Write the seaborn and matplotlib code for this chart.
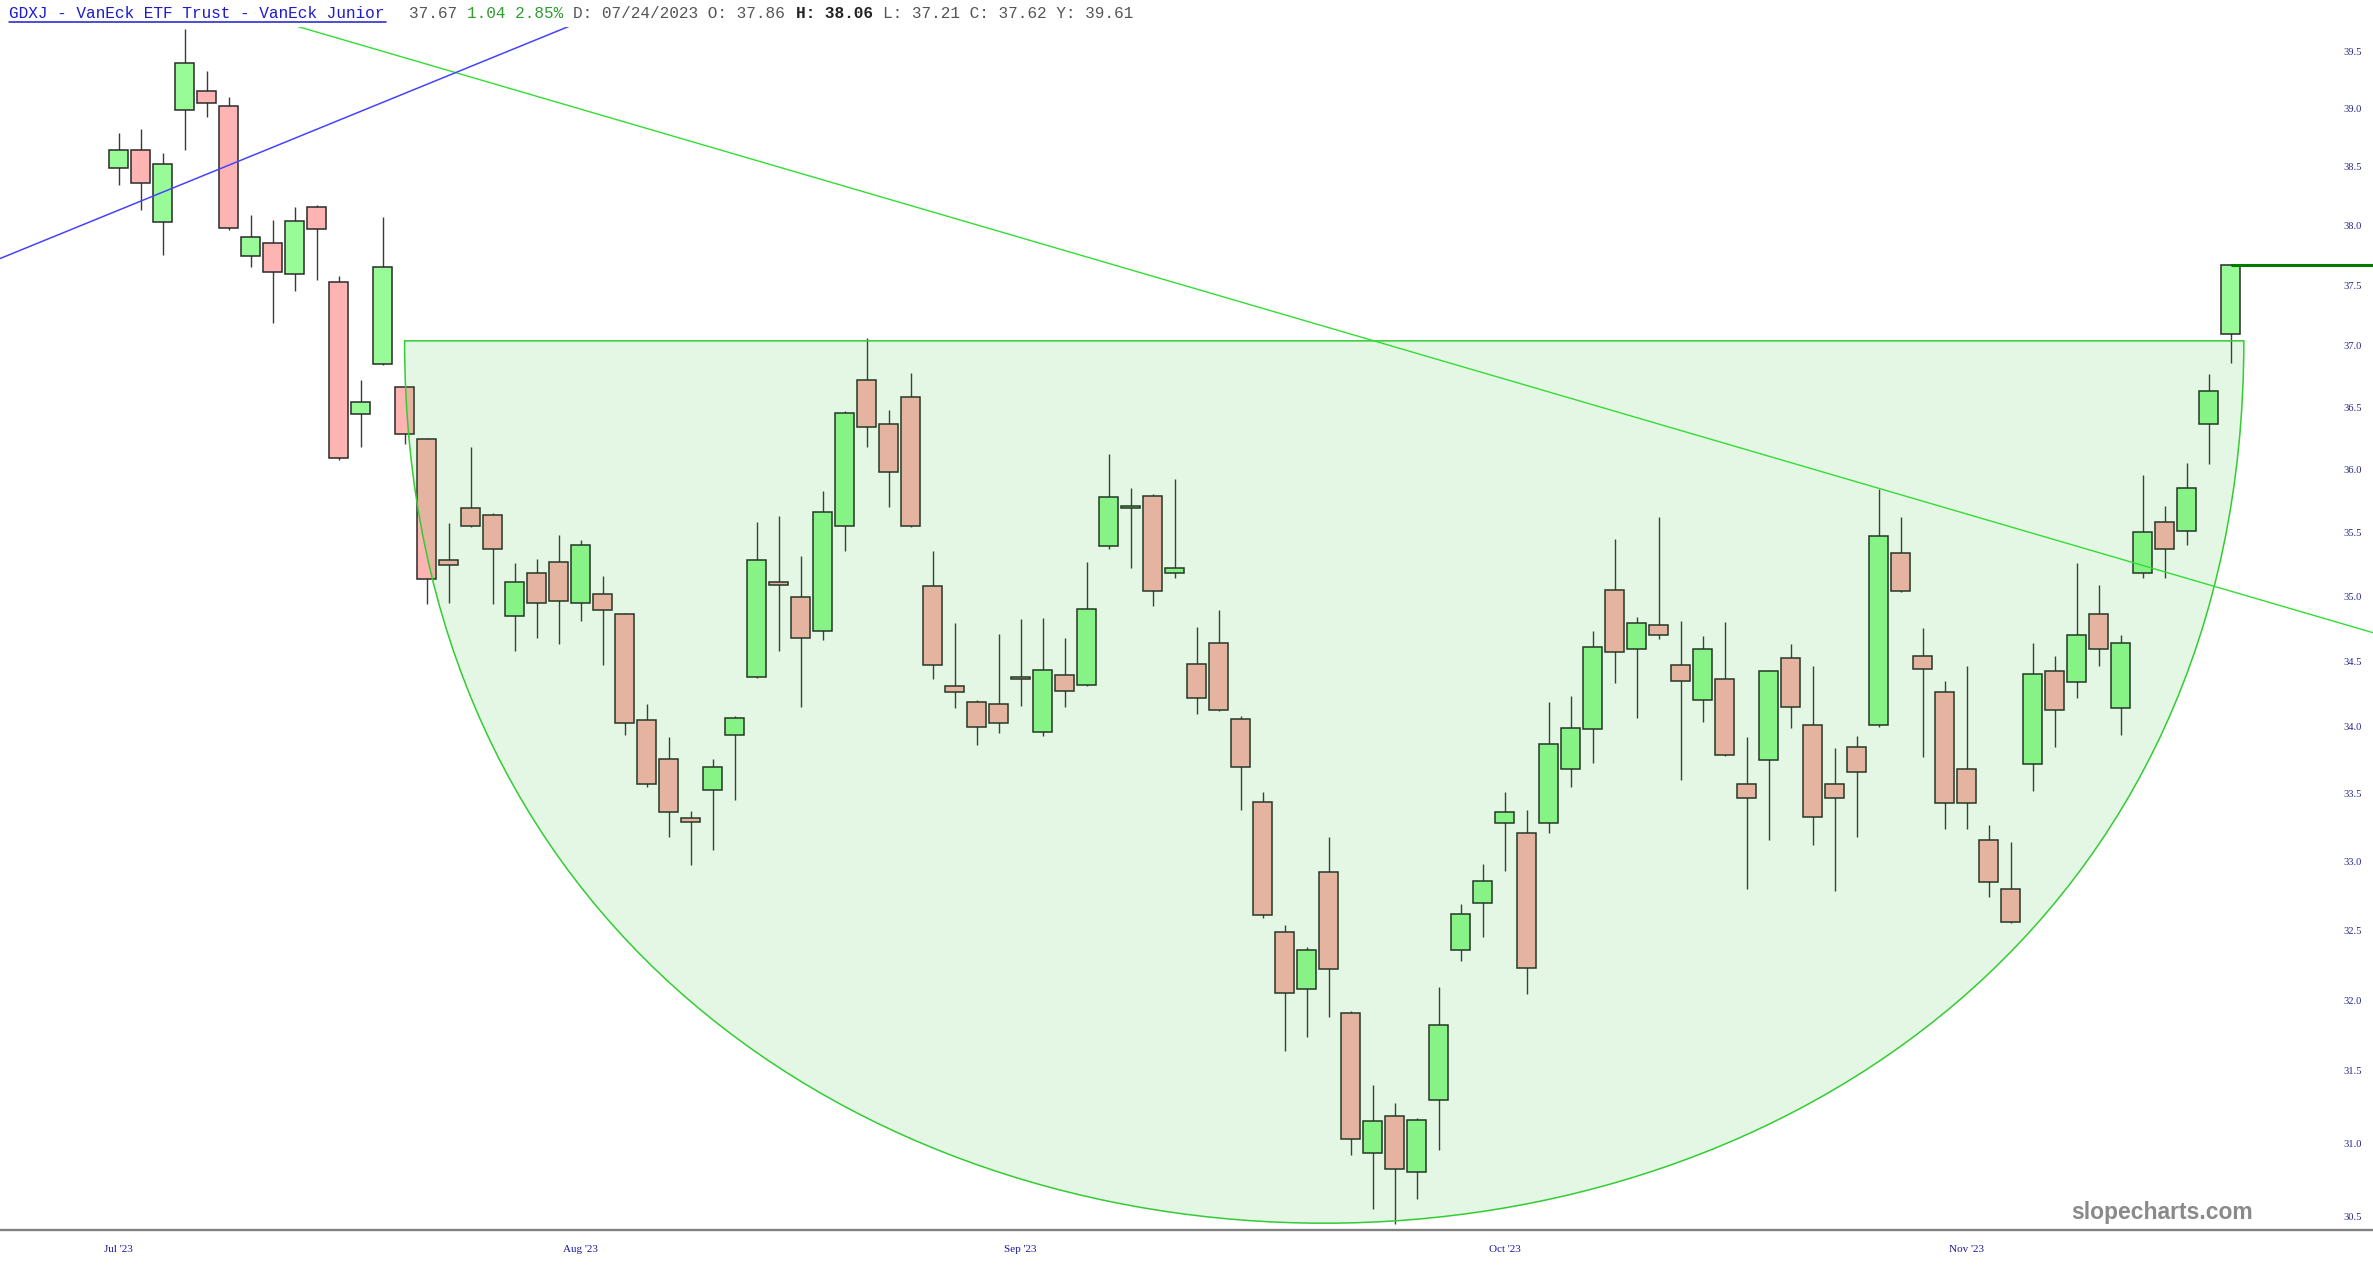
import numpy as np
import pandas as pd
import matplotlib
matplotlib.use("Agg")
import matplotlib.pyplot as plt
import seaborn as sns
from matplotlib.path import Path
from matplotlib.patches import PathPatch
from matplotlib.lines import Line2D
from matplotlib.ticker import FixedLocator, FixedFormatter, NullLocator

# GDXJ daily candles (13 Jul 2023 - 28 Nov 2023)
opens = [38.49, 38.64, 38.03, 38.99, 39.15, 39.02, 37.74, 37.85, 37.59, 38.16,
         37.53, 36.44, 36.85, 36.66, 36.24, 35.28, 35.69, 35.64, 34.85, 35.18,
         35.27, 34.95, 35.02, 34.86, 34.05, 33.76, 33.32, 33.53, 33.94, 34.38,
         35.11, 34.99, 34.73, 35.55, 36.72, 36.36, 36.58, 35.08, 34.31, 34.19,
         34.17, 34.38, 33.96, 34.39, 34.32, 35.39, 35.69, 35.79, 35.18, 34.48,
         34.64, 34.06, 33.44, 32.49, 32.08, 32.92, 31.91, 30.93, 31.19, 30.80,
         31.30, 32.36, 32.70, 33.28, 33.21, 33.28, 33.68, 33.98, 35.05, 34.59,
         34.78, 34.47, 34.20, 34.36, 33.57, 33.75, 34.52, 34.01, 33.57, 33.85,
         34.01, 35.34, 34.54, 34.26, 33.68, 33.16, 32.80, 33.72, 34.42, 34.34,
         34.86, 34.14, 35.18, 35.58, 35.51, 36.36, 37.10]
highs = [38.79, 38.82, 38.62, 39.69, 39.33, 39.10, 38.09, 38.05, 38.16, 38.17,
         37.58, 36.72, 38.07, 36.67, 36.25, 35.57, 36.18, 35.65, 35.26, 35.29,
         35.48, 35.44, 35.16, 34.87, 34.17, 33.92, 33.37, 33.76, 34.08, 35.58,
         35.63, 35.31, 35.83, 36.47, 37.06, 36.48, 36.78, 35.35, 34.79, 34.20,
         34.71, 34.82, 34.83, 34.68, 35.27, 36.12, 35.85, 35.80, 35.92, 34.76,
         34.89, 34.08, 33.51, 32.54, 32.38, 33.18, 31.92, 31.40, 31.28, 31.17,
         32.09, 32.69, 32.98, 33.51, 33.38, 34.19, 34.23, 34.73, 35.45, 34.84,
         35.62, 34.81, 34.69, 34.80, 33.92, 34.43, 34.63, 34.46, 33.84, 33.93,
         35.84, 35.62, 34.75, 34.35, 34.46, 33.27, 33.14, 34.64, 34.54, 35.26,
         35.09, 34.70, 35.95, 35.71, 36.05, 36.77, 37.68]
lows = [38.34, 38.13, 37.75, 38.64, 38.93, 37.96, 37.65, 37.19, 37.45, 37.54,
        36.07, 36.18, 36.84, 36.20, 34.94, 34.95, 35.54, 34.94, 34.58, 34.68,
        34.63, 34.81, 34.47, 33.94, 33.55, 33.18, 32.97, 33.08, 33.45, 34.37,
        34.58, 34.15, 34.66, 35.35, 36.18, 35.70, 35.54, 34.36, 34.14, 33.86,
        33.95, 34.16, 33.93, 34.15, 34.31, 35.37, 35.22, 34.92, 35.14, 34.10,
        34.12, 33.38, 32.59, 31.64, 31.74, 31.88, 30.92, 30.55, 30.45, 30.62,
        30.95, 32.28, 32.45, 32.93, 32.04, 33.21, 33.55, 33.73, 34.33, 34.07,
        34.67, 33.60, 34.04, 33.78, 32.80, 33.16, 33.99, 33.12, 32.78, 33.18,
        34.00, 35.03, 33.77, 33.24, 33.24, 32.74, 32.55, 33.52, 33.85, 34.22,
        34.46, 33.94, 35.14, 35.14, 35.40, 36.04, 36.86]
closes = [38.64, 38.36, 38.52, 39.40, 39.05, 37.98, 37.90, 37.61, 38.04, 37.97,
          36.09, 36.54, 37.65, 36.28, 35.13, 35.24, 35.55, 35.37, 35.11, 34.95,
          34.96, 35.40, 34.89, 34.03, 33.57, 33.36, 33.29, 33.70, 34.07, 35.28,
          35.09, 34.68, 35.66, 36.45, 36.34, 35.98, 35.55, 34.47, 34.26, 34.00,
          34.03, 34.36, 34.43, 34.27, 34.90, 35.78, 35.71, 35.04, 35.22, 34.22,
          34.13, 33.70, 32.61, 32.05, 32.36, 32.22, 31.03, 31.15, 30.82, 31.16,
          31.82, 32.62, 32.86, 33.36, 32.23, 33.87, 33.99, 34.61, 34.57, 34.79,
          34.70, 34.35, 34.59, 33.79, 33.47, 34.42, 34.15, 33.33, 33.47, 33.66,
          35.47, 35.04, 34.44, 33.43, 33.43, 32.85, 32.56, 34.40, 34.13, 34.70,
          34.59, 34.64, 35.50, 35.37, 35.85, 36.63, 37.67]

holidays = ["2023-09-04", "2023-11-23"]
month_tick_dates = ["2023-07-13", "2023-08-11", "2023-09-11", "2023-10-11", "2023-11-09"]
month_labels = ["Jul '23", "Aug '23", "Sep '23", "Oct '23", "Nov '23"]
price_ticks = [30.5, 31.0, 31.5, 32.0, 32.5, 33.0, 33.5, 34.0, 34.5,
               35.0, 35.5, 36.0, 36.5, 37.0, 37.5, 38.0, 38.5, 39.0, 39.5]

# drawings on the chart (index positions / prices)
cup_left, cup_right = 13.0, 96.6
cup_top, cup_ctrl = 37.04, 28.53
green_trend = ((0, 40.18), (100, 34.84))
blue_trend = ((0, 38.13), (20, 39.68))
breakout_level = 37.67

dates = pd.bdate_range("2023-07-13", "2023-11-28")
dates = dates[~dates.isin(pd.to_datetime(holidays))]

df = pd.DataFrame({"open": opens, "high": highs, "low": lows, "close": closes}, index=dates)
df["x"] = np.arange(len(df))
df["up"] = df["close"] >= df["open"]

W, H, DPI = 2373, 1270, 100
sns.set_theme(style="white")
plt.rcParams["font.family"] = ["Liberation Serif", "DejaVu Sans"]

fig = plt.figure(figsize=(W / DPI, H / DPI), dpi=DPI)
ax = fig.add_axes([0, 1 - 1230 / H, 1, (1230 - 26.5) / H])
ax.set_facecolor("white")

# wicks + bodies
ax.vlines(df["x"], df["low"], df["high"], color="#3a3a3a", lw=1.0, zorder=2)
body = np.maximum((df["close"] - df["open"]).abs(), 0.015)
ax.bar(df["x"], body, bottom=np.minimum(df["open"], df["close"]), width=0.86,
       color=np.where(df["up"], "#98fb98", "#ffb4b4"), edgecolor="#2a2a2a",
       linewidth=1.1, zorder=3)

# cup shape (bezier, drawn over candles)
cup = Path([(cup_left, cup_top), (cup_left, cup_ctrl), (cup_right, cup_ctrl),
            (cup_right, cup_top), (cup_left, cup_top)],
           [Path.MOVETO, Path.CURVE4, Path.CURVE4, Path.CURVE4, Path.CLOSEPOLY])
ax.add_patch(PathPatch(cup, facecolor=(0, 0.71, 0, 0.106), edgecolor="#33cc33",
                       lw=1.1, zorder=4))

ax.axline(*green_trend, color="#33dd33", lw=1.0, zorder=5)
ax.axline(*blue_trend, color="#4444ff", lw=1.1, zorder=5)

xmin, xmax = -5.39, 102.47
ax.hlines(breakout_level, df["x"].iloc[-1], xmax, color="#007a00", lw=2.2, zorder=5)

ax.set_xlim(xmin, xmax)
ax.set_yscale("log")
ax.set_ylim(30.408, 39.716)
ax.yaxis.set_major_locator(FixedLocator(price_ticks))
ax.yaxis.set_major_formatter(FixedFormatter([f"{p:.1f}" for p in price_ticks]))
ax.yaxis.set_minor_locator(NullLocator())
ax.yaxis.tick_right()
ax.tick_params(axis="y", length=0, pad=-21, labelsize=7.6, labelcolor="#26268c")

tick_pos = [dates.get_loc(pd.Timestamp(d)) for d in month_tick_dates]
ax.set_xticks(tick_pos)
ax.set_xticklabels(month_labels)
ax.tick_params(axis="x", length=0, pad=10.5, labelsize=8, labelcolor="#1a1a99")
ax.grid(False)

for s in ["top", "left", "right"]:
    ax.spines[s].set_visible(False)
ax.spines["bottom"].set_color("#808080")
ax.spines["bottom"].set_linewidth(1.7)

# header line
fs = 11.6
cw = 0.6 * fs * DPI / 72
base_y = 1 - 18.3 / H
title = "GDXJ - VanEck ETF Trust - VanEck Junior"
fig.text(9 / W, base_y, title, color="#1c1ccc", fontsize=fs,
         family="Liberation Mono", va="baseline")
fig.add_artist(Line2D([9 / W, (9 + len(title) * cw) / W], [1 - 21.5 / H] * 2,
                      color="#1c1ccc", lw=1.1))
segments = [("37.67 ", "#555555", "normal"),
            ("1.04 2.85% ", "#2e9e2e", "normal"),
            ("D: 07/24/2023 O: 37.86 ", "#555555", "normal"),
            ("H: 38.06 ", "#222222", "bold"),
            ("L: 37.21 C: 37.62 Y: 39.61", "#555555", "normal")]
x0 = 409
for txt, col, wt in segments:
    fig.text(x0 / W, base_y, txt, color=col, fontsize=fs, fontweight=wt,
             family="Liberation Mono", va="baseline")
    x0 += len(txt) * cw

fig.text(2162 / W, 1 - 1213 / H, "slopecharts.com", color="#8a8a8a", fontsize=16.5,
         fontweight="bold", family="Liberation Sans", ha="center", va="center")

fig.savefig("out.png", dpi=DPI)
